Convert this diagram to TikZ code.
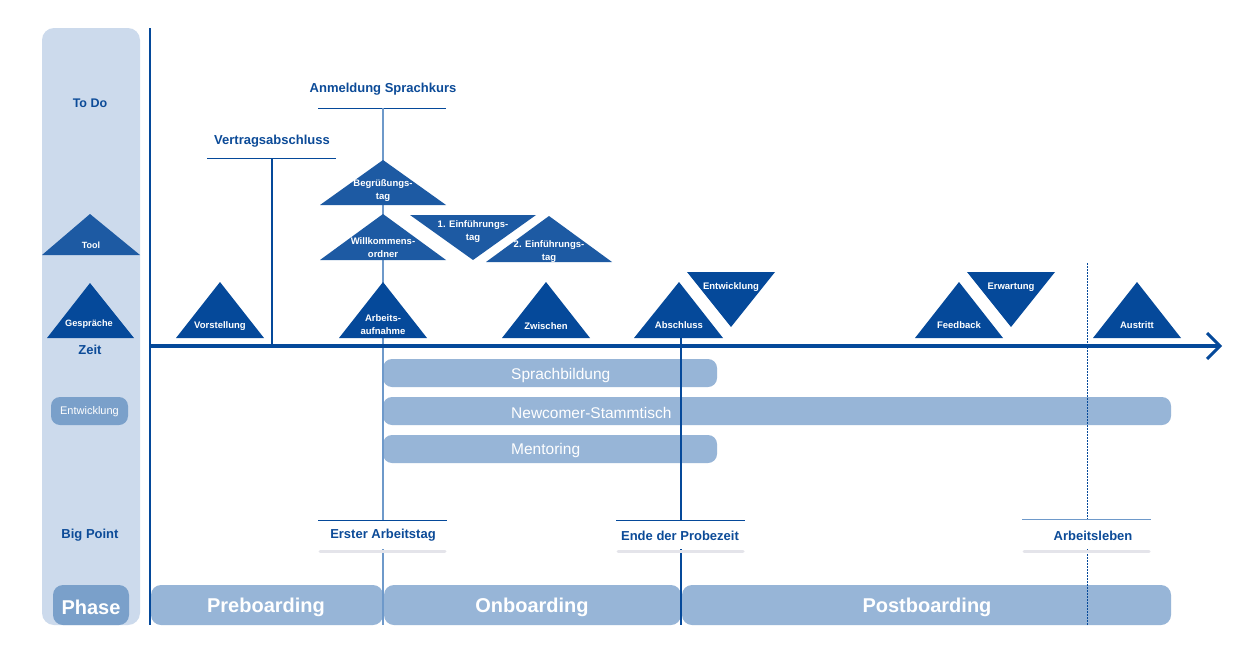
\documentclass[tikz,border=0pt]{standalone}
\usepackage{fontspec}
\setmainfont{Liberation Sans}
\definecolor{colbg}{HTML}{CCDAEC}
\definecolor{tdark}{HTML}{05499A}
\definecolor{tmid}{HTML}{1D5AA3}
\definecolor{txtblue}{HTML}{0C4B98}
\definecolor{barblue}{HTML}{97B5D7}
\definecolor{pillblue}{HTML}{7AA0CA}
\definecolor{linelight}{HTML}{6E99CA}
\definecolor{shadowgray}{HTML}{E4E4EA}
\begin{document}
\begin{tikzpicture}[x=1pt,y=-1pt,
  lbl/.style={text=txtblue, font=\fontsize{13}{15}\selectfont\bfseries, inner sep=0pt, yshift=-1.5pt},
  tlbl/.style={text=white, font=\fontsize{9.5}{12.5}\selectfont\bfseries, align=center, inner sep=0pt, yshift=-1.5pt},
  pilltxt/.style={text=white, font=\fontsize{11}{13}\selectfont, inner sep=0pt, yshift=-1pt},
  bartxt/.style={text=white, font=\fontsize{15.5}{18}\selectfont, anchor=west, inner sep=0pt, yshift=-1.5pt},
  phasetxt/.style={text=white, font=\fontsize{20}{24}\selectfont\bfseries, inner sep=0pt, yshift=-2pt},
  uline/.style={draw=tdark, line width=1pt},
  vline/.style={draw=tdark, line width=1.2pt},
  vlinelight/.style={draw=linelight, line width=1.6pt},
  shadowline/.style={draw=shadowgray, line width=3pt, line cap=round},
  barfill/.style={fill=barblue, rounded corners=9pt},
  phasefill/.style={fill=barblue, rounded corners=10pt},
  labelbg/.style={fill=white}
]
\useasboundingbox[fill=white] (0,0) rectangle (1256,653);

% left column
\fill[colbg, rounded corners=12pt] (42,28) rectangle (140,625);
\node[lbl, font=\fontsize{12.5}{15}\selectfont\bfseries] (todo) at (90,102) {To Do};
\fill[tmid] (42,255) -- (90,214) -- (140,255) -- cycle;
\node[tlbl, font=\fontsize{9}{11}\selectfont\bfseries] (tool) at (91,244) {Tool};
\fill[tdark] (47,338) -- (90,283) -- (134,338) -- cycle;
\node[tlbl, font=\fontsize{9.2}{11}\selectfont\bfseries] (gespr) at (89,323) {Gespräche};
\node[lbl] (zeit) at (90,348) {Zeit};
\fill[pillblue, rounded corners=9pt] (51,397) rectangle (128,425);
\node[pilltxt] (entwpill) at (89.5,411) {Entwicklung};
\node[lbl] (bigpoint) at (90,534) {Big Point};
\fill[pillblue, rounded corners=10pt] (53,585) rectangle (129,625);
\node[phasetxt] (phase) at (91,605) {Phase};

% coordinates for lines
\coordinate (lefttop) at (150,28);
\coordinate (leftbot) at (150,625);
\coordinate (axisstart) at (150,346);
\coordinate (axisend) at (1220,346);
\coordinate (vatop) at (272,158);
\coordinate (vabot) at (272,346);
\coordinate (astop) at (383,108);
\coordinate (asbot) at (383,625);
\coordinate (pztop) at (681,338);
\coordinate (pzbot) at (681,625);
\coordinate (altop) at (1087,263);
\coordinate (albot) at (1087,625);

% phase bars
\fill[phasefill] (151,585) rectangle (383,625);
\fill[phasefill] (384,585) rectangle (681,625);
\fill[phasefill] (682,585) rectangle (1171,625);
\node[phasetxt] (pre) at (266,605) {Preboarding};
\node[phasetxt] (on) at (532,605) {Onboarding};
\node[phasetxt] (post) at (927,605) {Postboarding};

% activity bars
\fill[barfill] (383,359) rectangle (717,387);
\fill[barfill] (383,397) rectangle (1171,425);
\fill[barfill] (383,435) rectangle (717,463);
\node[bartxt] (sprach) at (511,374) {Sprachbildung};
\node[bartxt] (newc) at (511,411) {Newcomer-Stammtisch};
\node[bartxt] (ment) at (511,449) {Mentoring};

% top labels
\node[lbl] (vertrag) at (272,140) {Vertragsabschluss};
\draw[uline] (207,158) -- (336,158);
\node[lbl] (anmeld) at (383,88) {Anmeldung Sprachkurs};
\draw[uline] (318,108) -- (446,108);

% vertical lines
\draw[vline] (lefttop) -- (leftbot);
\draw[vline] (vatop) -- (vabot);
\draw[vlinelight] (astop) -- (asbot);
\draw[vline] (pztop) -- (pzbot);
\draw[draw=tdark, line width=1pt, dash pattern=on 1.5pt off 1.5pt] (altop) -- (albot);

% big points (white label boxes over the lines)
\fill[labelbg] (318,521) rectangle (447,549);
\node[lbl] (erster) at (383,534) {Erster Arbeitstag};
\draw[uline] (318,520) -- (447,520);
\draw[shadowline] (320,551) -- (445,551);
\fill[labelbg] (616,521) rectangle (745,549);
\node[lbl] (ende) at (680,534) {Ende der Probezeit};
\draw[uline] (616,520) -- (745,520);
\draw[shadowline] (618,551) -- (743,551);
\fill[labelbg] (1022,520) rectangle (1151,549);
\node[lbl] (leben) at (1093,534) {Arbeitsleben};
\draw[draw=linelight, line width=1pt] (1022,519) -- (1151,519);
\draw[shadowline] (1024,551) -- (1149,551);

% triangles
\fill[tmid] (320,205) -- (383,160) -- (446,205) -- cycle;
\node[tlbl] (begr) at (383,189) {Begrüßungs-\\tag};
\fill[tmid] (320,260) -- (383,214) -- (446,260) -- cycle;
\node[tlbl] (willk) at (383,246) {Willkommens-\\ordner};
\fill[tmid] (410,215) -- (536,215) -- (473,260) -- cycle;
\node[tlbl] (ein1) at (473,230) {1. Einführungs-\\tag};
\fill[tmid] (486,262) -- (549,216) -- (612,262) -- cycle;
\node[tlbl] (ein2) at (549,250) {2. Einführungs-\\tag};

\fill[tdark] (176,338) -- (220,282) -- (264,338) -- cycle;
\node[tlbl] (vorst) at (220,325) {Vorstellung};
\fill[tdark] (339,338) -- (383,282) -- (427,338) -- cycle;
\node[tlbl] (arb) at (383,323) {Arbeits-\\aufnahme};
\fill[tdark] (502,338) -- (546,282) -- (590,338) -- cycle;
\node[tlbl] (zw) at (546,325) {Zwischen};
\fill[tdark] (634,338) -- (679,282) -- (723,338) -- cycle;
\node[tlbl] (absch) at (679,324) {Abschluss};
\fill[tdark] (687,272) -- (775,272) -- (731,327) -- cycle;
\node[tlbl] (entw) at (731,286) {Entwicklung};
\fill[tdark] (915,338) -- (959,282) -- (1003,338) -- cycle;
\node[tlbl] (feed) at (959,324) {Feedback};
\fill[tdark] (967,272) -- (1055,272) -- (1011,327) -- cycle;
\node[tlbl] (erw) at (1011,286) {Erwartung};
\fill[tdark] (1093,338) -- (1137,282) -- (1181,338) -- cycle;
\node[tlbl] (aus) at (1137,324) {Austritt};

% time axis
\draw[draw=tdark, line width=4pt] (axisstart) -- (axisend);
\coordinate (chevtop) at (1207,333);
\coordinate (chevbot) at (1207,359);
\draw[draw=tdark, line width=3pt, line join=miter] (chevtop) -- (axisend) -- (chevbot);
\end{tikzpicture}
\end{document}
